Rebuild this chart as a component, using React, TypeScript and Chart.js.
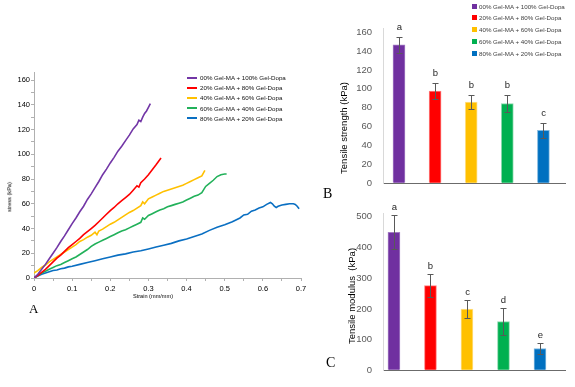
import React, { useEffect, useRef } from 'react';
import { Chart, registerables } from 'chart.js';

Chart.register(...registerables);

// ---------- data ----------
const SERIES_LABELS = [
  '00% Gel-MA + 100% Gel-Dopa',
  '20% Gel-MA + 80% Gel-Dopa',
  '40% Gel-MA + 60% Gel-Dopa',
  '60% Gel-MA + 40% Gel-Dopa',
  '80% Gel-MA + 20% Gel-Dopa',
];
const LINE_COLORS = ['#7236a6', '#ff0000', '#ffc000', '#22b15a', '#0a6fc2'];
const BAR_COLORS = ['#7030a0', '#ff0000', '#ffc000', '#00b050', '#0070c0'];
const BAR_EDGES = ['#a37cc4', '#ff8080', '#ffe08a', '#8ad9ad', '#80b8e0'];

// stress-strain curves: [strain (mm/mm), stress (kPa)]
const CURVE_00_100: [number, number][] = [
  [0, 0], [0.01, 3], [0.02, 7], [0.03, 11], [0.04, 15.5], [0.05, 20], [0.06, 24.5], [0.07, 29.5],
  [0.08, 34], [0.09, 39], [0.1, 44], [0.11, 48.5], [0.12, 53.5], [0.13, 58], [0.14, 63.5], [0.15, 68],
  [0.16, 73], [0.17, 78], [0.18, 83.5], [0.19, 88], [0.2, 93], [0.21, 97.5], [0.22, 102.5], [0.23, 106.5],
  [0.24, 111], [0.25, 115.5], [0.26, 120.5], [0.27, 124], [0.275, 127.5], [0.28, 126.5], [0.285, 130],
  [0.29, 133], [0.295, 135], [0.3, 138], [0.305, 141],
];
const CURVE_20_80: [number, number][] = [
  [0, 0], [0.01, 2], [0.02, 4.5], [0.03, 7], [0.04, 10], [0.05, 13], [0.06, 16], [0.07, 18.5],
  [0.08, 21.5], [0.09, 24.5], [0.1, 27], [0.11, 29.5], [0.12, 32], [0.13, 35], [0.14, 37.5], [0.15, 40],
  [0.16, 42.5], [0.17, 45.5], [0.18, 48.5], [0.19, 51.5], [0.2, 54.5], [0.21, 57], [0.22, 60], [0.23, 62.5],
  [0.24, 65], [0.25, 67.5], [0.26, 71], [0.27, 74.5], [0.275, 73.5], [0.28, 77], [0.29, 80], [0.3, 83.5],
  [0.31, 87.5], [0.32, 91.5], [0.333, 97],
];
const CURVE_40_60: [number, number][] = [
  [0, 4], [0.01, 6], [0.02, 8.5], [0.03, 10.5], [0.04, 13], [0.05, 15], [0.06, 17], [0.07, 19],
  [0.08, 21], [0.09, 23], [0.1, 25], [0.11, 27], [0.12, 29.5], [0.13, 31], [0.14, 33], [0.15, 34.5],
  [0.16, 37], [0.165, 35], [0.17, 38], [0.18, 39.5], [0.19, 41.5], [0.2, 43.5], [0.21, 45], [0.22, 47],
  [0.23, 49], [0.24, 51], [0.25, 53], [0.26, 54.5], [0.27, 56.5], [0.28, 58.5], [0.285, 61.5], [0.29, 60],
  [0.3, 64], [0.31, 65.5], [0.32, 67], [0.33, 68.5], [0.34, 70], [0.35, 71], [0.36, 72], [0.37, 73],
  [0.38, 74], [0.39, 75], [0.4, 76.5], [0.41, 78], [0.42, 79.5], [0.43, 81], [0.44, 82.5], [0.448, 87],
];
const CURVE_60_40: [number, number][] = [
  [0, 0], [0.01, 2], [0.02, 4], [0.03, 5.5], [0.04, 7], [0.05, 8.5], [0.06, 10], [0.07, 11],
  [0.08, 12.5], [0.09, 14], [0.1, 15.5], [0.11, 17], [0.12, 19], [0.13, 21], [0.14, 23], [0.15, 25.5],
  [0.16, 27.5], [0.17, 29], [0.18, 30.5], [0.19, 32], [0.2, 33.5], [0.21, 35], [0.22, 36.5], [0.23, 38],
  [0.24, 39], [0.25, 40.5], [0.26, 42], [0.27, 43.5], [0.28, 45], [0.285, 48.5], [0.29, 47.5], [0.3, 50.5],
  [0.31, 52], [0.32, 53.5], [0.33, 55], [0.34, 56], [0.35, 57.5], [0.36, 58.5], [0.37, 59.5], [0.38, 60.5],
  [0.39, 61.5], [0.4, 63], [0.41, 64.5], [0.42, 66], [0.43, 67], [0.44, 69], [0.45, 74], [0.46, 76.5],
  [0.47, 79], [0.48, 82], [0.49, 83.5], [0.5, 84], [0.505, 84],
];
const CURVE_80_20: [number, number][] = [
  [0, 0], [0.01, 1.5], [0.02, 3], [0.03, 4], [0.04, 5], [0.05, 6], [0.06, 6.5], [0.07, 7.5],
  [0.08, 8], [0.09, 9], [0.1, 9.5], [0.12, 11], [0.14, 12.5], [0.16, 14], [0.18, 15.5], [0.2, 17],
  [0.22, 18.5], [0.24, 19.5], [0.26, 21], [0.28, 22], [0.3, 23.5], [0.32, 25], [0.34, 26.5], [0.36, 28],
  [0.38, 30], [0.4, 31.5], [0.42, 33.5], [0.44, 35.5], [0.46, 38.5], [0.48, 41], [0.5, 43], [0.52, 45.5],
  [0.54, 48.5], [0.55, 51], [0.56, 51.5], [0.57, 54], [0.58, 55], [0.59, 56.5], [0.6, 57.5], [0.61, 59.5],
  [0.62, 61], [0.625, 60], [0.63, 58], [0.635, 57], [0.64, 58], [0.65, 59], [0.66, 59.5], [0.67, 60],
  [0.68, 60], [0.685, 59.5], [0.69, 58], [0.695, 56],
];
const CURVES = [CURVE_00_100, CURVE_20_80, CURVE_40_60, CURVE_60_40, CURVE_80_20];

const STRAIN_TICKS = [0, 0.05, 0.1, 0.15, 0.2, 0.25, 0.3, 0.35, 0.4, 0.45, 0.5, 0.55, 0.6, 0.65, 0.7];
const STRESS_TICKS = [0, 10, 20, 30, 40, 50, 60, 70, 80, 90, 100, 110, 120, 130, 140, 150, 160];

const STRENGTH_VALUES = [146.5, 97.5, 86, 84.5, 56];
const STRENGTH_ERRORS = [8.7, 8.5, 7.6, 9.3, 8];
const STRENGTH_LETTERS = ['a', 'b', 'b', 'b', 'c'];
const STRENGTH_TICKS = [0, 20, 40, 60, 80, 100, 120, 140, 160];

const MODULUS_VALUES = [449.5, 276, 199, 159, 71];
const MODULUS_ERRORS = [55, 37, 30, 43, 17];
const MODULUS_LETTERS = ['a', 'b', 'c', 'd', 'e'];
const MODULUS_TICKS = [0, 100, 200, 300, 400, 500];

const FONT = '"Liberation Sans", Arial, Helvetica, sans-serif';
const SERIF = '"Liberation Serif", "Times New Roman", serif';

// ---------- plugin: error bars + significance letters ----------
function makeBarAnnot(values: number[], errors: number[], letters: string[], gap: number) {
  return {
    id: 'barAnnot',
    afterDatasetsDraw(chart: any) {
      const meta = chart.getDatasetMeta(0);
      const ys = chart.scales.y;
      const ctx = chart.ctx;
      ctx.save();
      meta.data.forEach((el: any, i: number) => {
        const x = Math.round(el.x) + 0.5;
        const yTop = Math.round(ys.getPixelForValue(values[i] + errors[i])) + 0.5;
        const yBot = Math.round(ys.getPixelForValue(values[i] - errors[i])) + 0.5;
        ctx.strokeStyle = '#595959';
        ctx.lineWidth = 1;
        ctx.beginPath();
        ctx.moveTo(x, yTop);
        ctx.lineTo(x, yBot);
        ctx.moveTo(x - 3, yTop);
        ctx.lineTo(x + 3, yTop);
        ctx.moveTo(x - 3, yBot);
        ctx.lineTo(x + 3, yBot);
        ctx.stroke();
        ctx.fillStyle = '#262626';
        ctx.font = `9.5px ${FONT}`;
        ctx.textAlign = 'center';
        ctx.textBaseline = 'middle';
        ctx.fillText(letters[i], x, yTop - gap);
      });
      ctx.restore();
    },
  };
}

function StressStrainChart() {
  const ref = useRef<HTMLCanvasElement>(null);
  useEffect(() => {
    const chart = new Chart(ref.current!, {
      type: 'line',
      data: {
        datasets: CURVES.map((c, i) => ({
          label: SERIES_LABELS[i],
          data: c.map(([x, y]) => ({ x, y })),
          borderColor: LINE_COLORS[i],
          borderWidth: 1.6,
          pointRadius: 0,
          tension: 0,
          fill: false,
        })),
      },
      options: {
        responsive: false,
        animation: false,
        events: [],
        layout: { padding: { left: 0, top: 72, right: 19, bottom: 28 } },
        plugins: { legend: { display: false }, tooltip: { enabled: false } },
        scales: {
          x: {
            type: 'linear',
            min: 0,
            max: 0.7,
            afterBuildTicks: (s: any) => { s.ticks = STRAIN_TICKS.map((v) => ({ value: v })); },
            afterFit: (s: any) => { s.height = 14; },
            ticks: {
              autoSkip: false,
              maxRotation: 0,
              padding: 3,
              color: '#000',
              font: { size: 7.5, family: FONT },
              callback: (v: any) => {
                const r = Math.round(Number(v) * 100);
                if (r % 10 !== 0) return '';
                return r === 0 ? '0' : (r / 100).toFixed(1);
              },
            },
            grid: { drawOnChartArea: false, tickLength: 3, color: '#b0b0b0' },
            border: { color: '#b0b0b0' },
          },
          y: {
            type: 'linear',
            min: 0,
            max: 166.5,
            afterBuildTicks: (s: any) => { s.ticks = STRESS_TICKS.map((v) => ({ value: v })); },
            afterFit: (s: any) => { s.width = 34; },
            ticks: {
              autoSkip: false,
              padding: 1,
              color: '#000',
              font: { size: 7.5, family: FONT },
              callback: (v: any) => (Number(v) % 20 === 0 ? String(v) : ''),
            },
            grid: { drawOnChartArea: false, tickLength: 3, color: '#b0b0b0' },
            border: { color: '#b0b0b0' },
          },
        },
      },
    });
    return () => chart.destroy();
  }, []);
  return <canvas ref={ref} width={320} height={320} style={{ position: 'absolute', left: 0, top: 0, width: 320, height: 320 }} />;
}

function BarPanel(props: {
  values: number[]; errors: number[]; letters: string[]; ticks: number[];
  yMax: number; xMin: number; xMax: number; top: number; height: number;
  padTop: number; padBottom: number; gap: number;
}) {
  const ref = useRef<HTMLCanvasElement>(null);
  useEffect(() => {
    const { values, errors, letters, ticks, yMax, xMin, xMax, padTop, padBottom, gap } = props;
    const chart = new Chart(ref.current!, {
      type: 'bar',
      data: {
        datasets: [{
          label: 'values',
          data: values.map((v, i) => ({ x: i, y: v })),
          backgroundColor: BAR_COLORS,
          borderColor: BAR_EDGES,
          borderWidth: 1,
          barThickness: 12,
        }],
      },
      options: {
        responsive: false,
        animation: false,
        events: [],
        layout: { padding: { left: 0, top: padTop, right: 10, bottom: padBottom } },
        plugins: { legend: { display: false }, tooltip: { enabled: false } },
        scales: {
          x: {
            type: 'linear',
            min: xMin,
            max: xMax,
            offset: false,
            ticks: { display: false },
            grid: { display: false, drawOnChartArea: false, drawTicks: false },
            border: { color: '#6b6b6b' },
            afterFit: (s: any) => { s.height = 4; },
          },
          y: {
            min: 0,
            max: yMax,
            afterBuildTicks: (s: any) => { s.ticks = ticks.map((v) => ({ value: v })); },
            afterFit: (s: any) => { s.width = 63; },
            ticks: { autoSkip: false, padding: 11, color: '#595959', font: { size: 9.5, family: FONT } },
            grid: { drawOnChartArea: false, drawTicks: false },
            border: { color: '#d9d9d9' },
          },
        },
      },
      plugins: [makeBarAnnot(values, errors, letters, gap)],
    });
    return () => chart.destroy();
  }, []);
  return (
    <canvas
      ref={ref}
      width={255}
      height={props.height}
      style={{ position: 'absolute', left: 320, top: props.top, width: 255, height: props.height }}
    />
  );
}

const txt = (extra: React.CSSProperties): React.CSSProperties => ({
  position: 'absolute',
  fontFamily: FONT,
  whiteSpace: 'pre',
  lineHeight: 1,
  ...extra,
});

export default function App() {
  return (
    <div style={{ position: 'absolute', left: 0, top: 0, width: 575, height: 387, background: '#fff', overflow: 'hidden' }}>
      <StressStrainChart />
      <BarPanel
        values={STRENGTH_VALUES} errors={STRENGTH_ERRORS} letters={STRENGTH_LETTERS} ticks={STRENGTH_TICKS}
        yMax={164.4} xMin={-0.443} xMax={4.598} top={0} height={200} padTop={28} padBottom={6} gap={10}
      />
      <BarPanel
        values={MODULUS_VALUES} errors={MODULUS_ERRORS} letters={MODULUS_LETTERS} ticks={MODULUS_TICKS}
        yMax={510} xMin={-0.3} xMax={4.685} top={197} height={190} padTop={12} padBottom={11} gap={8}
      />

      {/* Panel A legend */}
      {SERIES_LABELS.map((l, i) => (
        <div key={'la' + i} style={{ position: 'absolute', left: 187, top: 73.7 + i * 10.1, height: 8, display: 'flex', alignItems: 'center' }}>
          <div style={{ width: 10, height: 2, background: LINE_COLORS[i] }} />
          <span style={{ marginLeft: 3, fontFamily: FONT, fontSize: 6.2, color: '#111', whiteSpace: 'pre' }}>{l}</span>
        </div>
      ))}
      {/* Panel B legend */}
      {SERIES_LABELS.map((l, i) => (
        <div key={'lb' + i} style={{ position: 'absolute', left: 472, top: 2 + i * 11.8, height: 8, display: 'flex', alignItems: 'center' }}>
          <div style={{ width: 5, height: 5, background: BAR_COLORS[i] }} />
          <span style={{ marginLeft: 2, fontFamily: FONT, fontSize: 6.2, color: '#404040', whiteSpace: 'pre' }}>{l}</span>
        </div>
      ))}

      {/* axis titles */}
      <div style={txt({ left: 10, top: 197, fontSize: 5.6, color: '#000', transform: 'translate(-50%, -50%) rotate(-90deg)' })}>stress (kPa)</div>
      <div style={txt({ left: 153, top: 297, fontSize: 5.6, color: '#000', transform: 'translate(-50%, -50%)' })}>Strain (mm/mm)</div>
      <div style={txt({ left: 344, top: 128, fontSize: 9.5, color: '#000', transform: 'translate(-50%, -50%) rotate(-90deg)' })}>Tensile strength (kPa)</div>
      <div style={txt({ left: 352, top: 296, fontSize: 9.5, color: '#000', transform: 'translate(-50%, -50%) rotate(-90deg)' })}>Tensile modulus  (kPa)</div>

      {/* panel letters */}
      <div style={{ position: 'absolute', left: 29, top: 301.5, fontFamily: SERIF, fontSize: 13, lineHeight: 1, color: '#000' }}>A</div>
      <div style={{ position: 'absolute', left: 323, top: 187, fontFamily: SERIF, fontSize: 14, lineHeight: 1, color: '#000' }}>B</div>
      <div style={{ position: 'absolute', left: 326, top: 356, fontFamily: SERIF, fontSize: 14, lineHeight: 1, color: '#000' }}>C</div>
    </div>
  );
}
